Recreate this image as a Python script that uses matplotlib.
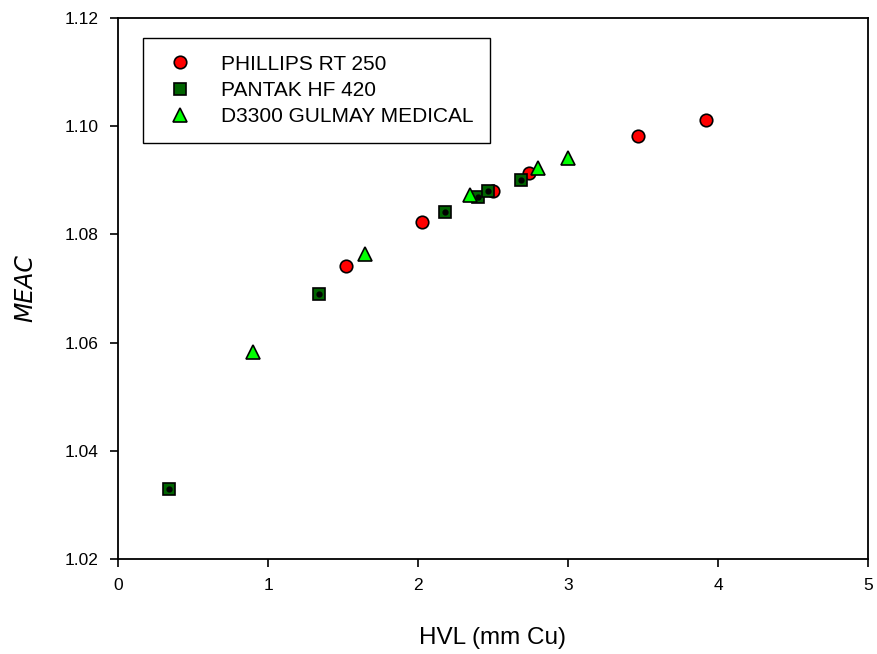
import matplotlib
matplotlib.use("Agg")
import matplotlib.pyplot as plt

plt.rcParams['font.family'] = ['Liberation Sans', 'DejaVu Sans']

# PHILLIPS RT 250
x1 = [1.52, 2.03, 2.50, 2.74, 3.47, 3.92]
y1 = [1.0741, 1.0823, 1.0881, 1.0913, 1.0982, 1.1012]
# PANTAK HF 420
x2 = [0.34, 1.34, 2.18, 2.40, 2.47, 2.69]
y2 = [1.0330, 1.0690, 1.0841, 1.0870, 1.0881, 1.0900]
# D3300 GULMAY MEDICAL
x3 = [0.90, 1.65, 2.35, 2.80, 3.00]
y3 = [1.0582, 1.0763, 1.0872, 1.0922, 1.0941]

labels = ['PHILLIPS RT 250', 'PANTAK HF 420', 'D3300 GULMAY MEDICAL']

fig = plt.figure(figsize=(8.78, 6.54), dpi=100)
ax = fig.add_axes([0.1344, 0.1453, 0.8542, 0.8272])

ax.plot(x1, y1, 'o', ms=9, mfc='#ff0000', mec='black', mew=1.2, label=labels[0])
ax.plot(x2, y2, 's', ms=9, mfc='#006400', mec='black', mew=1.2, label=labels[1], zorder=3)
ax.plot(x2, y2, 'o', ms=3.5, mfc='black', mec='black', zorder=3.1)
ax.plot(x3, y3, '^', ms=10, mfc='#00ff00', mec='black', mew=1.2, label=labels[2], zorder=3.2)

ax.set_xlim(0, 5)
ax.set_ylim(1.02, 1.12)
ax.set_xticks([0, 1, 2, 3, 4, 5])
ax.set_yticks([1.02, 1.04, 1.06, 1.08, 1.10, 1.12])
ax.set_yticklabels(['1.02', '1.04', '1.06', '1.08', '1.10', '1.12'])
ax.tick_params(direction='out', length=6, width=1.2, labelsize=12.5, pad=8)
for s in ax.spines.values():
    s.set_linewidth(1.3)

ax.set_xlabel('HVL (mm Cu)', fontsize=17.5)
ax.xaxis.set_label_coords(0.5, -0.125)
ax.set_ylabel('MEAC', fontsize=17, style='italic', family='DejaVu Sans')
ax.yaxis.set_label_coords(-0.108, 0.5)

leg = ax.legend(loc='upper left', bbox_to_anchor=(0.033, 0.963), fontsize=15,
                frameon=True, fancybox=False, edgecolor='black', framealpha=1,
                handletextpad=0.95, borderpad=0.8, labelspacing=0.35, numpoints=1,
                borderaxespad=0)
leg.get_frame().set_linewidth(1.0)

fig.savefig('out.png', dpi=100)
